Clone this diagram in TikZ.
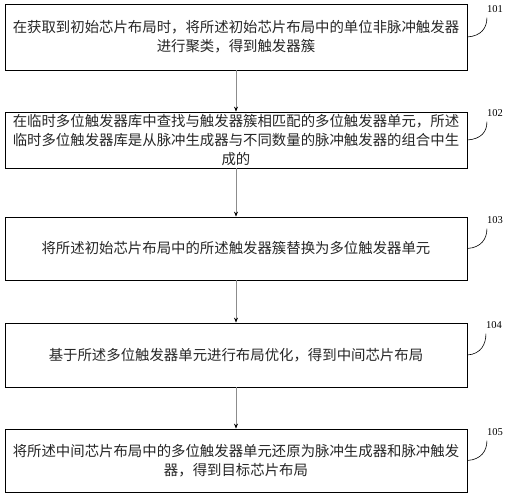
\documentclass[tikz,border=0pt]{standalone}
\usepackage{fontspec}
\setmainfont{Liberation Serif}
\newfontfamily\cjk{Noto Sans CJK SC}
\usetikzlibrary{arrows.meta}
\begin{document}
\begin{tikzpicture}[x=1pt,y=-1pt,
  stepbox/.style={draw=black, line width=0.8pt, minimum width=462pt, inner sep=0pt, align=center,
    font=\cjk\fontsize{14.4}{19}\selectfont, text=black!85},
  flow/.style={draw=black!45, line width=0.7pt, -{Stealth[color=black,length=5pt,width=4pt]}},
  leader/.style={draw=black, line width=0.6pt},
  lbl/.style={font=\fontsize{10.5}{12}\selectfont, inner sep=0pt}]
\useasboundingbox (0,0) rectangle (507,497);
\node[stepbox, minimum height=66pt] (b1) at (236,37)
  {在获取到初始芯片布局时，将所述初始芯片布局中的单位非脉冲触发器\\进行聚类，得到触发器簇};
\node[stepbox, minimum height=56pt] (b2) at (236,140)
  {在临时多位触发器库中查找与触发器簇相匹配的多位触发器单元，所述\\临时多位触发器库是从脉冲生成器与不同数量的脉冲触发器的组合中生\\成的};
\node[stepbox, minimum height=63pt] (b3) at (236,248.5)
  {将所述初始芯片布局中的所述触发器簇替换为多位触发器单元};
\node[stepbox, minimum height=64pt] (b4) at (236,355)
  {基于所述多位触发器单元进行布局优化，得到中间芯片布局};
\node[stepbox, minimum height=63pt] (b5) at (236,460.5)
  {将所述中间芯片布局中的多位触发器单元还原为脉冲生成器和脉冲触发\\器，得到目标芯片布局};
\draw[flow] (b1) -- (b2);
\draw[flow] (b2) -- (b3);
\draw[flow] (b3) -- (b4);
\draw[flow] (b4) -- (b5);
\node[lbl] (l1) at (495,9) {101};
\node[lbl] (l2) at (495,113) {102};
\node[lbl] (l3) at (495,220) {103};
\node[lbl] (l4) at (494,325) {104};
\node[lbl] (l5) at (495,432) {105};
\foreach \i in {1,...,5}{
  \draw[leader] (b\i.east) .. controls +(14,-1) and +(0,10) .. ([yshift=-5pt]l\i.south west);
}
\end{tikzpicture}
\end{document}
